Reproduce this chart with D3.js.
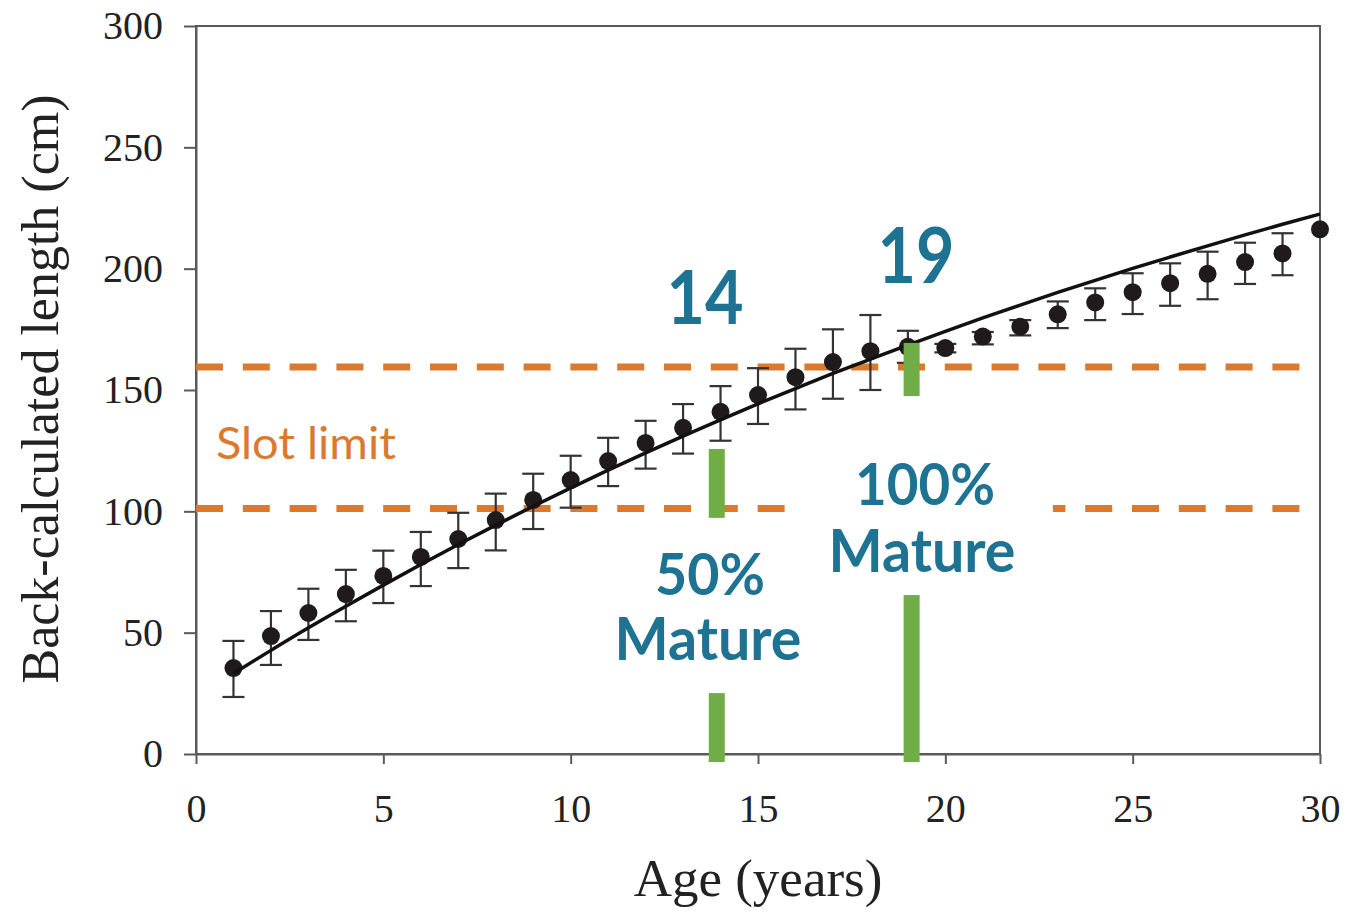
<!DOCTYPE html>
<html>
<head>
<meta charset="utf-8">
<script src="https://cdn.jsdelivr.net/npm/d3@7"></script>
<style>
  html, body { margin: 0; padding: 0; background: #fff; }
  svg { display: block; }
</style>
</head>
<body>
<svg id="chart" width="1347" height="912"></svg>
<script>
// ---------------- data ----------------
const ages = [1,2,3,4,5,6,7,8,9,10,11,12,13,14,15,16,17,18,19,20,21,22,23,24,25,26,27,28,29,30];
const meanLength = [35.4,48.6,58.1,65.9,73.4,81.2,88.6,96.4,104.7,112.9,120.7,128.2,134.4,141.0,147.9,155.3,161.5,166.0,167.8,167.3,172.0,176.1,181.2,186.1,190.3,194.0,197.9,202.7,206.3,216.2];
const errUpper = [46.6,58.9,68.1,75.9,83.8,91.5,99.4,107.3,115.5,122.9,130.3,137.3,144.2,151.6,159.0,167.0,175.0,180.9,174.4,169.0,173.9,178.8,186.5,191.9,198.1,202.2,207.0,210.7,214.6,null];
const errLower = [23.5,36.7,47.0,54.7,62.2,69.2,76.6,83.9,92.7,101.5,110.4,117.6,123.8,129.1,136.0,142.0,146.4,150.0,161.2,165.5,168.8,172.5,175.5,178.8,181.3,184.7,187.4,193.7,197.3,null];
// fitted growth curve
const fitLength = [33.2,42.7,52.0,60.9,69.6,78.1,86.3,94.3,102.1,109.6,117.0,124.1,131.0,137.7,144.3,150.6,156.8,162.7,168.5,174.2,179.7,185.0,190.2,195.2,200.1,204.8,209.4,213.9,218.3,222.5];

const xTicks = [0,5,10,15,20,25,30];
const yTicks = [0,50,100,150,200,250,300];

// slot limit lines: value and age spans drawn
const slotValues = [159.5, 101.2];
const slotSpans = [[[0, 29.47]], [[0, 15.72], [22.87, 29.47]]];

// maturity markers (age, segments in cm)
const matureAges = [13.9, 19.1];
const matureSegments = [[[125.7, 97.3], [25.1, -3.3]], [[169.4, 147.5], [65.5, -3.3]]];

const xTitle = "Age (years)";
const yTitle = "Back-calculated length (cm)";
const slotLabel = "Slot limit";

// ---------------- layout ----------------
const svg = d3.select("#chart");
const x = d3.scaleLinear().domain([0, 30]).range([196, 1320]);
const y = d3.scaleLinear().domain([0, 300]).range([754, 26]);

const axisColor = "#5a5a5a";
const orange = "#DB7A2E";
const green = "#70AD47";
const teal = "#1E7392";
const serif = "'Liberation Serif', 'Times New Roman', serif";
const sans = "Lato, 'Open Sans', sans-serif";

// frame
svg.append("rect")
  .attr("x", x(0)).attr("y", y(300))
  .attr("width", x(30) - x(0)).attr("height", y(0) - y(300))
  .attr("fill", "none").attr("stroke", axisColor).attr("stroke-width", 2);

// axes
const gx = svg.append("g").attr("transform", `translate(0,${y(0)})`)
  .call(d3.axisBottom(x).tickValues(xTicks).tickSize(10).tickSizeOuter(0).tickPadding(30));
const gy = svg.append("g").attr("transform", `translate(${x(0)},0)`)
  .call(d3.axisLeft(y).tickValues(yTicks).tickSize(12).tickSizeOuter(0).tickPadding(21));
[gx, gy].forEach(g => {
  g.select(".domain").attr("stroke", axisColor).attr("stroke-width", 2);
  g.selectAll(".tick line").attr("stroke", axisColor).attr("stroke-width", 2);
  g.selectAll(".tick text").attr("fill", "#222").style("font-family", serif).style("font-size", "40px");
});

// axis titles
svg.append("text").attr("x", 758).attr("y", 896).attr("text-anchor", "middle")
  .style("font-family", serif).style("font-size", "53px").attr("fill", "#222").text(xTitle);
svg.append("text").attr("transform", "translate(58,389) rotate(-90)").attr("text-anchor", "middle")
  .style("font-family", serif).style("font-size", "52px").attr("fill", "#222").text(yTitle);

// slot limit dashed lines
const dashOrigin = x(0);
slotValues.forEach((v, i) => {
  slotSpans[i].forEach(span => {
    const x0 = x(span[0]), x1 = x(span[1]);
    svg.append("line")
      .attr("x1", x0).attr("x2", x1).attr("y1", y(v)).attr("y2", y(v))
      .attr("stroke", orange).attr("stroke-width", 7)
      .attr("stroke-dasharray", "27,19.8")
      .attr("stroke-dashoffset", x0 - dashOrigin);
  });
});

// error bars
const pts = ages.map((a, i) => ({ a, m: meanLength[i], hi: errUpper[i], lo: errLower[i] }));
const eb = svg.append("g").attr("stroke", "#333").attr("stroke-width", 2.2);
pts.filter(d => d.hi != null).forEach(d => {
  eb.append("line").attr("x1", x(d.a)).attr("x2", x(d.a)).attr("y1", y(d.hi)).attr("y2", y(d.lo));
  eb.append("line").attr("x1", x(d.a) - 11).attr("x2", x(d.a) + 11).attr("y1", y(d.hi)).attr("y2", y(d.hi));
  eb.append("line").attr("x1", x(d.a) - 11).attr("x2", x(d.a) + 11).attr("y1", y(d.lo)).attr("y2", y(d.lo));
});

// points
svg.append("g").selectAll("circle").data(pts).join("circle")
  .attr("cx", d => x(d.a)).attr("cy", d => y(d.m)).attr("r", 9).attr("fill", "#1f1b1c");

// fitted curve
const line = d3.line().x((d, i) => x(ages[i])).y(d => y(d)).curve(d3.curveMonotoneX);
svg.append("path").attr("d", line(fitLength))
  .attr("fill", "none").attr("stroke", "#111").attr("stroke-width", 3.5);

// maturity bars
matureAges.forEach((a, i) => {
  matureSegments[i].forEach(seg => {
    svg.append("rect")
      .attr("x", x(a) - 8).attr("width", 16)
      .attr("y", y(seg[0])).attr("height", y(seg[1]) - y(seg[0]))
      .attr("fill", green);
  });
});

// labels
function label(txt, cx, base, size, len, color, weight, anchor) {
  const t = svg.append("text").attr("x", cx).attr("y", base)
    .attr("text-anchor", anchor || "middle")
    .style("font-family", sans).style("font-size", size + "px")
    .style("font-weight", weight).attr("fill", color).text(txt);
  if (len) t.attr("textLength", len).attr("lengthAdjust", "spacingAndGlyphs");
  return t;
}
label(slotLabel, 216, 459, 44, 180, orange, 400, "start");
label(String(Math.round(matureAges[0])), 705, 324, 74, 77, teal, 700);
label(String(Math.round(matureAges[1])), 916, 283, 76, 77, teal, 700);
label("50%", 710, 595, 57, 110, teal, 700);
label("Mature", 708, 660, 60, 187, teal, 700);
label("100%", 925, 505, 58, 140, teal, 700);
label("Mature", 922, 572, 60, 187, teal, 700);
</script>
</body>
</html>
